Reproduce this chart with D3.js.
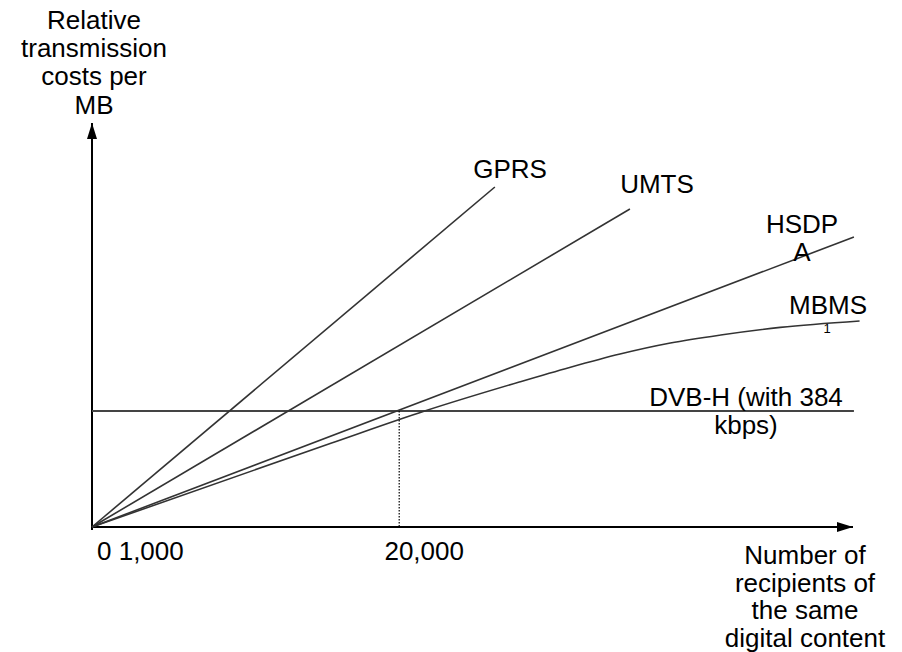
<!DOCTYPE html>
<html>
<head>
<meta charset="utf-8">
<script src="https://cdn.jsdelivr.net/npm/d3@7"></script>
<style>
  html, body { margin: 0; padding: 0; background: #fff; }
  svg { display: block; }
  text { font-family: "Liberation Sans", Arial, sans-serif; fill: #000; }
</style>
</head>
<body>
<svg id="chart" width="902" height="652"></svg>
<script>
// ---- data (x: number of recipients, y: relative cost per MB) ----
const xTickValues = [0, 20000];
const xTickLabels = ["0 1,000", "20,000"];
const yAxisTitle = ["Relative", "transmission", "costs per", "MB"];
const xAxisTitle = ["Number of", "recipients of", "the same", "digital content"];

const gprsX = [0, 26400];
const gprsY = [0, 85];
const umtsX = [0, 35250];
const umtsY = [0, 79.5];
const hsdpaX = [0, 49930];
const hsdpaY = [0, 72.5];
const mbmsX = [0, 15700, 21800, 28000, 31300, 34600, 37900, 41200, 45100, 50300];
const mbmsY = [0, 21, 29, 36.25, 39.9, 43.25, 46, 48, 49.9, 51.5];
const dvbX = [0, 49930];
const dvbY = [29, 29];
const breakEvenX = 20000;

const seriesLabels = ["GPRS", "UMTS", ["HSDP", "A"], "MBMS", ["DVB-H (with 384", "kbps)"]];
const footnoteMark = "1";

// ---- setup ----
const svg = d3.select("#chart");
const x = d3.scaleLinear().domain([0, 50000]).range([92, 855]);
const y = d3.scaleLinear().domain([0, 100]).range([527, 127]);
const FS = 26;

const defs = svg.append("defs");
defs.append("marker").attr("id", "arrow")
  .attr("viewBox", "0 0 16 10").attr("refX", 16).attr("refY", 5)
  .attr("markerWidth", 16).attr("markerHeight", 10)
  .attr("markerUnits", "userSpaceOnUse").attr("orient", "auto")
  .append("path").attr("d", "M0,0 L16,5 L0,10 Z").attr("fill", "#000");

// axes
svg.append("line")
  .attr("x1", x(0)).attr("y1", y(0) + 3).attr("x2", x(0)).attr("y2", 123)
  .attr("stroke", "#000").attr("stroke-width", 2).attr("marker-end", "url(#arrow)");
svg.append("line")
  .attr("x1", x(0)).attr("y1", y(0)).attr("x2", 853).attr("y2", y(0))
  .attr("stroke", "#000").attr("stroke-width", 2).attr("marker-end", "url(#arrow)");

// series lines
const line = d3.line().x(d => x(d[0])).y(d => y(d[1]));
const zip = (a, b) => a.map((v, i) => [v, b[i]]);

svg.append("path").datum(zip(dvbX, dvbY)).attr("d", line)
  .attr("fill", "none").attr("stroke", "#444").attr("stroke-width", 1.8);

[[gprsX, gprsY], [umtsX, umtsY], [hsdpaX, hsdpaY]].forEach(([xs, ys]) => {
  svg.append("path").datum(zip(xs, ys)).attr("d", line)
    .attr("fill", "none").attr("stroke", "#333").attr("stroke-width", 1.6);
});
svg.append("path").datum(zip(mbmsX, mbmsY))
  .attr("d", d3.line().x(d => x(d[0])).y(d => y(d[1])).curve(d3.curveMonotoneX))
  .attr("fill", "none").attr("stroke", "#333").attr("stroke-width", 1.6);

// break-even dotted line
svg.append("line")
  .attr("x1", x(breakEvenX) + 2).attr("x2", x(breakEvenX) + 2)
  .attr("y1", y(dvbY[0])).attr("y2", y(0))
  .attr("stroke", "#000").attr("stroke-width", 1.2).attr("stroke-dasharray", "1.5,1.5");

// tick labels
svg.append("text").attr("x", x(xTickValues[0]) + 5).attr("y", 560)
  .attr("font-size", FS).attr("text-anchor", "start").text(xTickLabels[0]);
svg.append("text").attr("x", x(xTickValues[1]) + 27).attr("y", 560)
  .attr("font-size", FS).attr("text-anchor", "middle").text(xTickLabels[1]);

// axis titles
yAxisTitle.forEach((t, i) => {
  svg.append("text").attr("x", 94).attr("y", 29 + i * 28.2)
    .attr("font-size", FS).attr("text-anchor", "middle").text(t);
});
xAxisTitle.forEach((t, i) => {
  svg.append("text").attr("x", 805).attr("y", 564 + i * 27.7)
    .attr("font-size", FS).attr("text-anchor", "middle").text(t);
});

// series labels
function label(lines, cx, by, lh) {
  [].concat(lines).forEach((t, i) => {
    svg.append("text").attr("x", cx).attr("y", by + i * lh)
      .attr("font-size", FS).attr("text-anchor", "middle").text(t);
  });
}
label(seriesLabels[0], 510, 178, 28);
label(seriesLabels[1], 657, 193, 28);
label(seriesLabels[2], 802, 233, 28);
label(seriesLabels[3], 828, 314, 28);
svg.append("text").attr("x", 827).attr("y", 333)
  .attr("font-size", 13).attr("text-anchor", "middle").text(footnoteMark);
label(seriesLabels[4], 746, 406, 28);
</script>
</body>
</html>
